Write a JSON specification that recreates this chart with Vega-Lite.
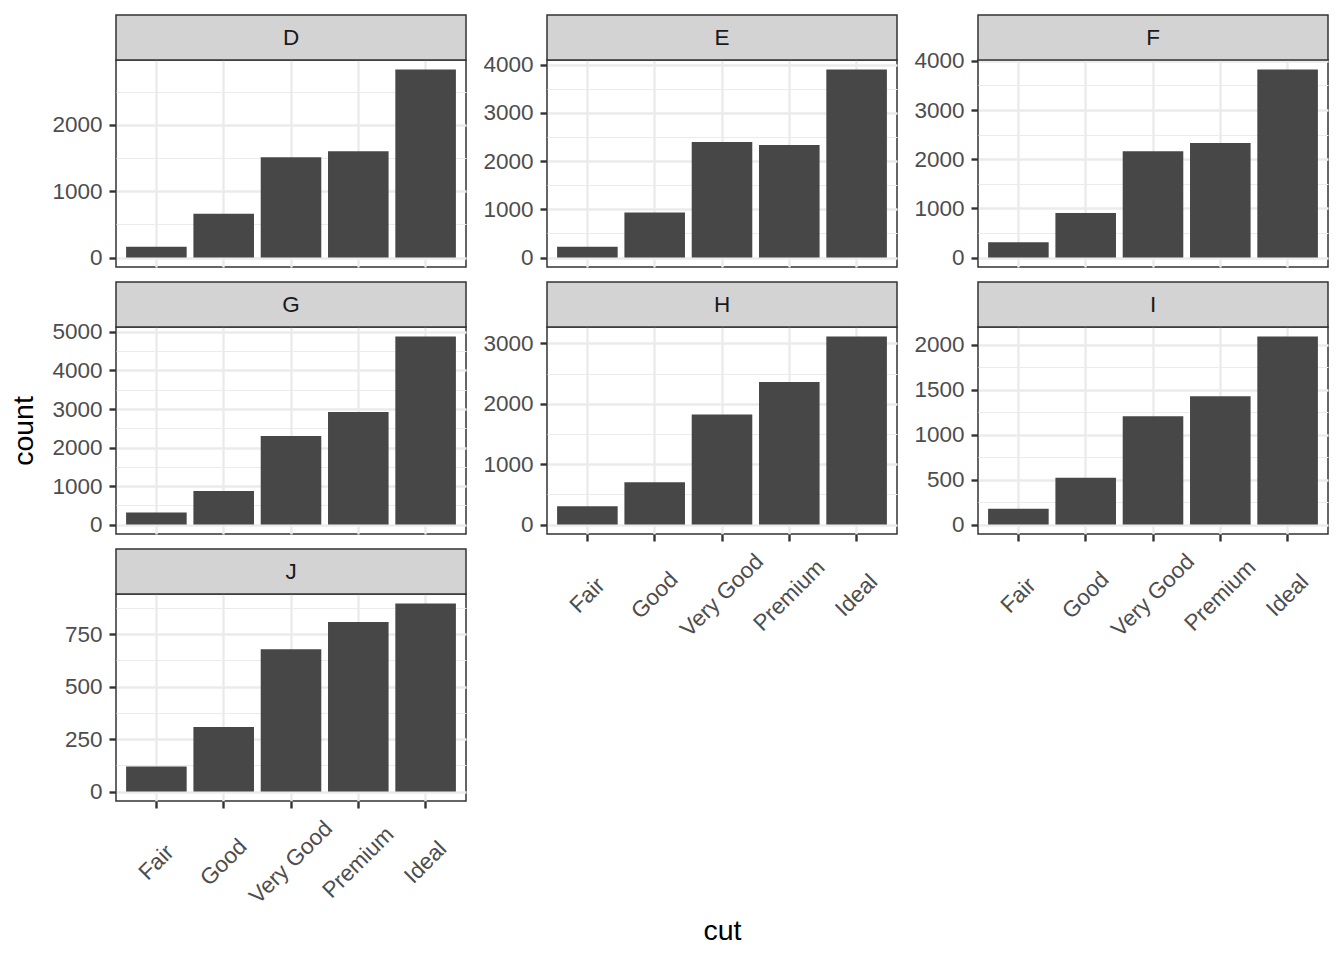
{
  "$schema": "https://vega.github.io/schema/vega-lite/v6.json",
  "padding": {"left": 9, "top": 13, "right": 5, "bottom": 5},
  "background": "white",
  "datasets": {
    "dia": [
      {"color": "D", "cut": "Fair", "n": 163}, {"color": "D", "cut": "Good", "n": 662}, {"color": "D", "cut": "Very Good", "n": 1513}, {"color": "D", "cut": "Premium", "n": 1603}, {"color": "D", "cut": "Ideal", "n": 2834},
      {"color": "E", "cut": "Fair", "n": 224}, {"color": "E", "cut": "Good", "n": 933}, {"color": "E", "cut": "Very Good", "n": 2400}, {"color": "E", "cut": "Premium", "n": 2337}, {"color": "E", "cut": "Ideal", "n": 3903},
      {"color": "F", "cut": "Fair", "n": 312}, {"color": "F", "cut": "Good", "n": 909}, {"color": "F", "cut": "Very Good", "n": 2164}, {"color": "F", "cut": "Premium", "n": 2331}, {"color": "F", "cut": "Ideal", "n": 3826},
      {"color": "G", "cut": "Fair", "n": 314}, {"color": "G", "cut": "Good", "n": 871}, {"color": "G", "cut": "Very Good", "n": 2299}, {"color": "G", "cut": "Premium", "n": 2924}, {"color": "G", "cut": "Ideal", "n": 4884},
      {"color": "H", "cut": "Fair", "n": 303}, {"color": "H", "cut": "Good", "n": 702}, {"color": "H", "cut": "Very Good", "n": 1824}, {"color": "H", "cut": "Premium", "n": 2360}, {"color": "H", "cut": "Ideal", "n": 3115},
      {"color": "I", "cut": "Fair", "n": 175}, {"color": "I", "cut": "Good", "n": 522}, {"color": "I", "cut": "Very Good", "n": 1204}, {"color": "I", "cut": "Premium", "n": 1428}, {"color": "I", "cut": "Ideal", "n": 2093},
      {"color": "J", "cut": "Fair", "n": 119}, {"color": "J", "cut": "Good", "n": 307}, {"color": "J", "cut": "Very Good", "n": 678}, {"color": "J", "cut": "Premium", "n": 808}, {"color": "J", "cut": "Ideal", "n": 896}
    ]
  },
  "spacing": 14,
  "hconcat": [
    {
      "bounds": "flush",
      "spacing": 60,
      "vconcat": [
        {
          "width": 350, "height": 207,
          "data": {"name": "dia"},
          "transform": [{"filter": "datum.color === 'D'"}],
          "layer": [
            {"transform": [{"aggregate": [{"op": "count", "as": "k"}], "groupby": ["color"]}],
             "mark": {"type": "rect", "fill": "#D3D3D3", "stroke": "#333333", "strokeWidth": 1.5},
             "encoding": {"x": {"value": 0}, "x2": {"value": "width"}, "y": {"value": -45}, "y2": {"value": 0}}},
            {"transform": [{"aggregate": [{"op": "count", "as": "k"}], "groupby": ["color"]}],
             "mark": {"type": "text", "fontSize": 22.5, "color": "#1A1A1A", "baseline": "middle", "align": "center"},
             "encoding": {"text": {"field": "color"}, "x": {"value": 175}, "y": {"value": -22}}},
            {"mark": {"type": "bar", "color": "#474747"},
             "encoding": {
               "x": {"field": "cut", "type": "nominal", "sort": ["Fair", "Good", "Very Good", "Premium", "Ideal"],
                     "scale": {"domain": ["Fair", "Good", "Very Good", "Premium", "Ideal"], "paddingInner": 0.1, "paddingOuter": 0.15},
                     "axis": {"labels": false, "ticks": false, "title": null, "grid": true, "bandPosition": 0.5}},
               "y": {"field": "n", "type": "quantitative",
                     "scale": {"domain": [-141.7, 2975.7], "nice": false, "zero": false},
                     "axis": {"values": [0, 500, 1000, 1500, 2000, 2500], "format": "d", "title": null,
                              "labelExpr": "datum.value % 1000 === 0 ? datum.label : ''",
                              "tickOpacity": {"condition": {"test": "datum.value % 1000 !== 0", "value": 0}, "value": 1},
                              "gridWidth": {"condition": {"test": "datum.value % 1000 !== 0", "value": 1.2}, "value": 2.4}}}
             }}
          ]
        },
        {
          "width": 350, "height": 207,
          "data": {"name": "dia"},
          "transform": [{"filter": "datum.color === 'G'"}],
          "layer": [
            {"transform": [{"aggregate": [{"op": "count", "as": "k"}], "groupby": ["color"]}],
             "mark": {"type": "rect", "fill": "#D3D3D3", "stroke": "#333333", "strokeWidth": 1.5},
             "encoding": {"x": {"value": 0}, "x2": {"value": "width"}, "y": {"value": -45}, "y2": {"value": 0}}},
            {"transform": [{"aggregate": [{"op": "count", "as": "k"}], "groupby": ["color"]}],
             "mark": {"type": "text", "fontSize": 22.5, "color": "#1A1A1A", "baseline": "middle", "align": "center"},
             "encoding": {"text": {"field": "color"}, "x": {"value": 175}, "y": {"value": -22}}},
            {"mark": {"type": "bar", "color": "#474747"},
             "encoding": {
               "x": {"field": "cut", "type": "nominal", "sort": ["Fair", "Good", "Very Good", "Premium", "Ideal"],
                     "scale": {"domain": ["Fair", "Good", "Very Good", "Premium", "Ideal"], "paddingInner": 0.1, "paddingOuter": 0.15},
                     "axis": {"labels": false, "ticks": false, "title": null, "grid": true, "bandPosition": 0.5}},
               "y": {"field": "n", "type": "quantitative",
                     "scale": {"domain": [-244.2, 5128.2], "nice": false, "zero": false},
                     "axis": {"values": [0, 500, 1000, 1500, 2000, 2500, 3000, 3500, 4000, 4500, 5000], "format": "d", "title": "count", "titlePadding": 13,
                              "labelExpr": "datum.value % 1000 === 0 ? datum.label : ''",
                              "tickOpacity": {"condition": {"test": "datum.value % 1000 !== 0", "value": 0}, "value": 1},
                              "gridWidth": {"condition": {"test": "datum.value % 1000 !== 0", "value": 1.2}, "value": 2.4}}}
             }}
          ]
        },
        {
          "width": 350, "height": 207,
          "data": {"name": "dia"},
          "transform": [{"filter": "datum.color === 'J'"}],
          "layer": [
            {"transform": [{"aggregate": [{"op": "count", "as": "k"}], "groupby": ["color"]}],
             "mark": {"type": "rect", "fill": "#D3D3D3", "stroke": "#333333", "strokeWidth": 1.5},
             "encoding": {"x": {"value": 0}, "x2": {"value": "width"}, "y": {"value": -45}, "y2": {"value": 0}}},
            {"transform": [{"aggregate": [{"op": "count", "as": "k"}], "groupby": ["color"]}],
             "mark": {"type": "text", "fontSize": 22.5, "color": "#1A1A1A", "baseline": "middle", "align": "center"},
             "encoding": {"text": {"field": "color"}, "x": {"value": 175}, "y": {"value": -22}}},
            {"mark": {"type": "bar", "color": "#474747"},
             "encoding": {
               "x": {"field": "cut", "type": "nominal", "sort": ["Fair", "Good", "Very Good", "Premium", "Ideal"],
                     "scale": {"domain": ["Fair", "Good", "Very Good", "Premium", "Ideal"], "paddingInner": 0.1, "paddingOuter": 0.15},
                     "axis": {"title": null, "grid": true, "bandPosition": 0.5, "labelAngle": -45, "labelAlign": "center", "labelBaseline": "middle", "labelPadding": 54, "labelOffset": 0}},
               "y": {"field": "n", "type": "quantitative",
                     "scale": {"domain": [-44.8, 940.8], "nice": false, "zero": false},
                     "axis": {"values": [0, 125, 250, 375, 500, 625, 750, 875], "format": "d", "title": null,
                              "labelExpr": "datum.value % 250 === 0 ? datum.label : ''",
                              "tickOpacity": {"condition": {"test": "datum.value % 250 !== 0", "value": 0}, "value": 1},
                              "gridWidth": {"condition": {"test": "datum.value % 250 !== 0", "value": 1.2}, "value": 2.4}}}
             }}
          ]
        }
      ]
    },
    {
      "bounds": "flush",
      "spacing": 60,
      "vconcat": [
        {
          "width": 350, "height": 207,
          "data": {"name": "dia"},
          "transform": [{"filter": "datum.color === 'E'"}],
          "layer": [
            {"transform": [{"aggregate": [{"op": "count", "as": "k"}], "groupby": ["color"]}],
             "mark": {"type": "rect", "fill": "#D3D3D3", "stroke": "#333333", "strokeWidth": 1.5},
             "encoding": {"x": {"value": 0}, "x2": {"value": "width"}, "y": {"value": -45}, "y2": {"value": 0}}},
            {"transform": [{"aggregate": [{"op": "count", "as": "k"}], "groupby": ["color"]}],
             "mark": {"type": "text", "fontSize": 22.5, "color": "#1A1A1A", "baseline": "middle", "align": "center"},
             "encoding": {"text": {"field": "color"}, "x": {"value": 175}, "y": {"value": -22}}},
            {"mark": {"type": "bar", "color": "#474747"},
             "encoding": {
               "x": {"field": "cut", "type": "nominal", "sort": ["Fair", "Good", "Very Good", "Premium", "Ideal"],
                     "scale": {"domain": ["Fair", "Good", "Very Good", "Premium", "Ideal"], "paddingInner": 0.1, "paddingOuter": 0.15},
                     "axis": {"labels": false, "ticks": false, "title": null, "grid": true, "bandPosition": 0.5}},
               "y": {"field": "n", "type": "quantitative",
                     "scale": {"domain": [-195.15, 4098.15], "nice": false, "zero": false},
                     "axis": {"values": [0, 500, 1000, 1500, 2000, 2500, 3000, 3500, 4000], "format": "d", "title": null,
                              "labelExpr": "datum.value % 1000 === 0 ? datum.label : ''",
                              "tickOpacity": {"condition": {"test": "datum.value % 1000 !== 0", "value": 0}, "value": 1},
                              "gridWidth": {"condition": {"test": "datum.value % 1000 !== 0", "value": 1.2}, "value": 2.4}}}
             }}
          ]
        },
        {
          "width": 350, "height": 207,
          "data": {"name": "dia"},
          "transform": [{"filter": "datum.color === 'H'"}],
          "layer": [
            {"transform": [{"aggregate": [{"op": "count", "as": "k"}], "groupby": ["color"]}],
             "mark": {"type": "rect", "fill": "#D3D3D3", "stroke": "#333333", "strokeWidth": 1.5},
             "encoding": {"x": {"value": 0}, "x2": {"value": "width"}, "y": {"value": -45}, "y2": {"value": 0}}},
            {"transform": [{"aggregate": [{"op": "count", "as": "k"}], "groupby": ["color"]}],
             "mark": {"type": "text", "fontSize": 22.5, "color": "#1A1A1A", "baseline": "middle", "align": "center"},
             "encoding": {"text": {"field": "color"}, "x": {"value": 175}, "y": {"value": -22}}},
            {"mark": {"type": "bar", "color": "#474747"},
             "encoding": {
               "x": {"field": "cut", "type": "nominal", "sort": ["Fair", "Good", "Very Good", "Premium", "Ideal"],
                     "scale": {"domain": ["Fair", "Good", "Very Good", "Premium", "Ideal"], "paddingInner": 0.1, "paddingOuter": 0.15},
                     "axis": {"title": "cut", "titleY": 405, "titleBaseline": "alphabetic", "grid": true, "bandPosition": 0.5, "labelAngle": -45, "labelAlign": "center", "labelBaseline": "middle", "labelPadding": 54, "labelOffset": 0}},
               "y": {"field": "n", "type": "quantitative",
                     "scale": {"domain": [-155.75, 3270.75], "nice": false, "zero": false},
                     "axis": {"values": [0, 500, 1000, 1500, 2000, 2500, 3000], "format": "d", "title": null,
                              "labelExpr": "datum.value % 1000 === 0 ? datum.label : ''",
                              "tickOpacity": {"condition": {"test": "datum.value % 1000 !== 0", "value": 0}, "value": 1},
                              "gridWidth": {"condition": {"test": "datum.value % 1000 !== 0", "value": 1.2}, "value": 2.4}}}
             }}
          ]
        }
      ]
    },
    {
      "bounds": "flush",
      "spacing": 60,
      "vconcat": [
        {
          "width": 350, "height": 207,
          "data": {"name": "dia"},
          "transform": [{"filter": "datum.color === 'F'"}],
          "layer": [
            {"transform": [{"aggregate": [{"op": "count", "as": "k"}], "groupby": ["color"]}],
             "mark": {"type": "rect", "fill": "#D3D3D3", "stroke": "#333333", "strokeWidth": 1.5},
             "encoding": {"x": {"value": 0}, "x2": {"value": "width"}, "y": {"value": -45}, "y2": {"value": 0}}},
            {"transform": [{"aggregate": [{"op": "count", "as": "k"}], "groupby": ["color"]}],
             "mark": {"type": "text", "fontSize": 22.5, "color": "#1A1A1A", "baseline": "middle", "align": "center"},
             "encoding": {"text": {"field": "color"}, "x": {"value": 175}, "y": {"value": -22}}},
            {"mark": {"type": "bar", "color": "#474747"},
             "encoding": {
               "x": {"field": "cut", "type": "nominal", "sort": ["Fair", "Good", "Very Good", "Premium", "Ideal"],
                     "scale": {"domain": ["Fair", "Good", "Very Good", "Premium", "Ideal"], "paddingInner": 0.1, "paddingOuter": 0.15},
                     "axis": {"labels": false, "ticks": false, "title": null, "grid": true, "bandPosition": 0.5}},
               "y": {"field": "n", "type": "quantitative",
                     "scale": {"domain": [-191.3, 4017.3], "nice": false, "zero": false},
                     "axis": {"values": [0, 500, 1000, 1500, 2000, 2500, 3000, 3500, 4000], "format": "d", "title": null,
                              "labelExpr": "datum.value % 1000 === 0 ? datum.label : ''",
                              "tickOpacity": {"condition": {"test": "datum.value % 1000 !== 0", "value": 0}, "value": 1},
                              "gridWidth": {"condition": {"test": "datum.value % 1000 !== 0", "value": 1.2}, "value": 2.4}}}
             }}
          ]
        },
        {
          "width": 350, "height": 207,
          "data": {"name": "dia"},
          "transform": [{"filter": "datum.color === 'I'"}],
          "layer": [
            {"transform": [{"aggregate": [{"op": "count", "as": "k"}], "groupby": ["color"]}],
             "mark": {"type": "rect", "fill": "#D3D3D3", "stroke": "#333333", "strokeWidth": 1.5},
             "encoding": {"x": {"value": 0}, "x2": {"value": "width"}, "y": {"value": -45}, "y2": {"value": 0}}},
            {"transform": [{"aggregate": [{"op": "count", "as": "k"}], "groupby": ["color"]}],
             "mark": {"type": "text", "fontSize": 22.5, "color": "#1A1A1A", "baseline": "middle", "align": "center"},
             "encoding": {"text": {"field": "color"}, "x": {"value": 175}, "y": {"value": -22}}},
            {"mark": {"type": "bar", "color": "#474747"},
             "encoding": {
               "x": {"field": "cut", "type": "nominal", "sort": ["Fair", "Good", "Very Good", "Premium", "Ideal"],
                     "scale": {"domain": ["Fair", "Good", "Very Good", "Premium", "Ideal"], "paddingInner": 0.1, "paddingOuter": 0.15},
                     "axis": {"title": null, "grid": true, "bandPosition": 0.5, "labelAngle": -45, "labelAlign": "center", "labelBaseline": "middle", "labelPadding": 54, "labelOffset": 0}},
               "y": {"field": "n", "type": "quantitative",
                     "scale": {"domain": [-104.65, 2197.65], "nice": false, "zero": false},
                     "axis": {"values": [0, 250, 500, 750, 1000, 1250, 1500, 1750, 2000], "format": "d", "title": null,
                              "labelExpr": "datum.value % 500 === 0 ? datum.label : ''",
                              "tickOpacity": {"condition": {"test": "datum.value % 500 !== 0", "value": 0}, "value": 1},
                              "gridWidth": {"condition": {"test": "datum.value % 500 !== 0", "value": 1.2}, "value": 2.4}}}
             }}
          ]
        }
      ]
    }
  ],
  "config": {
    "font": "Liberation Sans",
    "view": {"stroke": "#333333", "strokeWidth": 1.5, "fill": "white"},
    "axis": {
      "labelFont": "Liberation Sans", "labelFontSize": 22.5, "labelColor": "#4D4D4D", "labelOverlap": false,
      "tickColor": "#333333", "tickWidth": 2.4, "tickSize": 7, "domain": false,
      "gridColor": "#EBEBEB", "gridWidth": 2.4,
      "titleFont": "Liberation Sans", "titleFontSize": 28.5, "titleFontWeight": "normal", "titleColor": "#000000"
    },
    "axisY": {"labelPadding": 7}
  }
}
